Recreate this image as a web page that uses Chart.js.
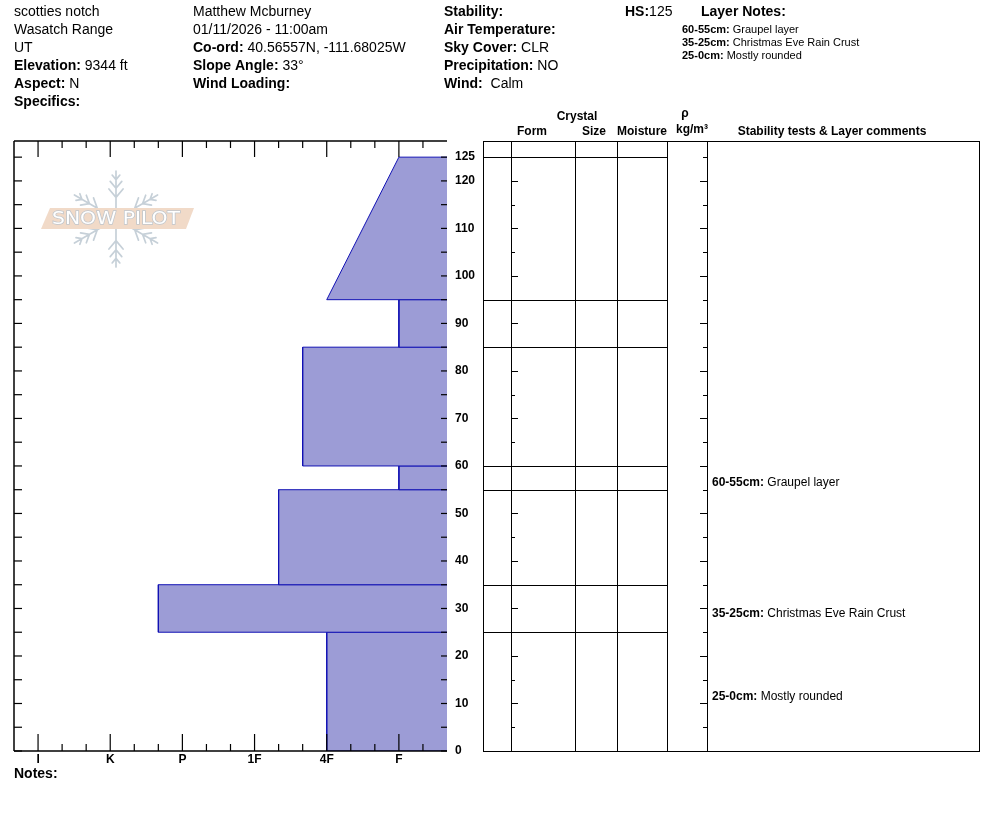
<!DOCTYPE html>
<html>
<head>
<meta charset="utf-8">
<title>scotties notch</title>
<script src="https://cdn.jsdelivr.net/npm/chart.js@4.4.1/dist/chart.umd.min.js"></script>
<style>
  html, body { margin: 0; padding: 0; background: #fff; }
  canvas { display: block; }
</style>
</head>
<body>
<canvas id="profile" width="994" height="840"></canvas>
<script>
// snow layers, top to bottom (cm above ground)
const layerTop = [125, 95, 85, 60, 55, 35, 25];
const layerBottom = [95, 85, 60, 55, 35, 25, 0];
const hardnessTop = ['F', 'F', '4F+', 'F', '1F-', 'P+', '4F'];
const hardnessBottom = ['4F', 'F', '4F+', 'F', '1F-', 'P+', '4F'];
const layerComments = ['', '', '', 'Graupel layer', '', 'Christmas Eve Rain Crust', 'Mostly rounded'];

// axes
const hardnessLabels = ['F', '4F', '1F', 'P', 'K', 'I'];
const depthLabels = [0, 10, 20, 30, 40, 50, 60, 70, 80, 90, 100, 110, 120, 125];
const depthTicks = [0, 5, 10, 15, 20, 25, 30, 35, 40, 45, 50, 55, 60, 65, 70, 75, 80, 85, 90, 95, 100, 105, 110, 115, 120, 125];

// header info
const siteInfo = [['', 'scotties notch'], ['', 'Wasatch Range'], ['', 'UT'], ['Elevation:', '9344 ft'], ['Aspect:', 'N'], ['Specifics:', '']];
const observerInfo = [['', 'Matthew Mcburney'], ['', '01/11/2026 - 11:00am'], ['Co-ord:', '40.56557N, -111.68025W'], ['Slope Angle:', '33°'], ['Wind Loading:', '']];
const weatherInfo = [['Stability:', ''], ['Air Temperature:', ''], ['Sky Cover:', 'CLR'], ['Precipitation:', 'NO'], ['Wind:', ' Calm']];
const snowHeight = 125;

const X_SOFT = 1 / 3;      // right edge of the hardness plot
const X_HARD = 6 + 1 / 3;  // left edge
const FONT = '"Liberation Sans", Arial, sans-serif';

function hardness(code) {
  let v = hardnessLabels.indexOf(code.replace(/[+-]$/, '')) + 1;
  if (code.endsWith('+')) v += 1 / 3;
  if (code.endsWith('-')) v -= 1 / 3;
  return v;
}

// one closed polygon per layer
const datasets = layerTop.map((top, i) => ({
  data: [
    { x: X_SOFT, y: top },
    { x: hardness(hardnessTop[i]), y: top },
    { x: hardness(hardnessBottom[i]), y: layerBottom[i] },
    { x: X_SOFT, y: layerBottom[i] }
  ],
  fill: 'shape',
  backgroundColor: '#9c9cd6',
  borderColor: '#1212b4',
  borderWidth: 1,
  pointRadius: 0,
  tension: 0
}));

function textPair(ctx, x, y, bold, normal, size) {
  ctx.font = 'bold ' + size + 'px ' + FONT;
  ctx.fillText(bold, x, y);
  let w = bold ? ctx.measureText(bold + ' ').width : 0;
  ctx.font = size + 'px ' + FONT;
  ctx.fillText(normal, x + w, y);
}

function line(ctx, x1, y1, x2, y2) {
  ctx.beginPath();
  ctx.moveTo(x1, y1);
  ctx.lineTo(x2, y2);
  ctx.stroke();
}

function drawLogo(ctx) {
  const cx = 116, cy = 219, r = 48;
  ctx.save();
  ctx.strokeStyle = '#c6d0d8';
  ctx.lineWidth = 1.7;
  ctx.lineCap = 'round';
  for (let a = 0; a < 6; a++) {
    const ang = -Math.PI / 2 + a * Math.PI / 3;
    const ux = Math.cos(ang), uy = Math.sin(ang);
    ctx.beginPath();
    ctx.moveTo(cx + ux * 10, cy + uy * 10);
    ctx.lineTo(cx + ux * r, cy + uy * r);
    [[0.45, 11], [0.64, 9], [0.82, 6]].forEach(([f, len]) => {
      const bx = cx + ux * r * f, by = cy + uy * r * f;
      [-1, 1].forEach(s => {
        const b = ang + s * Math.PI / 4.5;
        ctx.moveTo(bx, by);
        ctx.lineTo(bx + Math.cos(b) * len, by + Math.sin(b) * len);
      });
    });
    ctx.stroke();
  }
  ctx.fillStyle = '#f1dac8';
  ctx.beginPath();
  ctx.moveTo(50, 208); ctx.lineTo(194, 208); ctx.lineTo(186, 229); ctx.lineTo(41, 229);
  ctx.closePath();
  ctx.fill();
  ctx.font = '18px "DejaVu Sans"';
  ctx.textAlign = 'center';
  ctx.textBaseline = 'middle';
  const w = ctx.measureText('SNOW PILOT').width;
  ctx.translate(116, 219);
  ctx.scale(128 / w, 1);
  ctx.lineWidth = 1.4;
  ctx.strokeStyle = '#c0c6cc';
  ctx.strokeText('SNOW PILOT', 0, 0);
  ctx.fillStyle = '#ffffff';
  ctx.fillText('SNOW PILOT', 0, 0);
  ctx.restore();
}

const sheet = {
  id: 'sheet',
  beforeDatasetsDraw(chart) {
    drawLogo(chart.ctx);
  },
  afterDatasetsDraw(chart) {
    const { ctx, chartArea: a } = chart;
    const xs = chart.scales.x, ys = chart.scales.y;
    ctx.save();
    ctx.strokeStyle = '#000';
    ctx.lineWidth = 1.5;
    line(ctx, a.left, a.top, a.right, a.top);
    line(ctx, a.left, a.top, a.left, a.bottom);
    line(ctx, a.left, a.bottom, a.right, a.bottom);
    ctx.lineWidth = 1.2;
    for (let k = 2; k < 19; k++) {
      const x = xs.getPixelForValue(k / 3);
      const major = k % 3 === 0;
      line(ctx, x, a.top, x, a.top + (major ? 16 : 7));
      line(ctx, x, a.bottom, x, a.bottom - (major ? 17 : 7));
    }
    depthTicks.forEach(d => {
      const y = ys.getPixelForValue(d);
      line(ctx, a.left, y, a.left + 8, y);
      line(ctx, a.right - 6, y, a.right, y);
    });
    ctx.fillStyle = '#000';
    ctx.font = 'bold 12px ' + FONT;
    ctx.textAlign = 'center';
    ctx.textBaseline = 'middle';
    hardnessLabels.forEach((h, i) => {
      ctx.fillText(h, xs.getPixelForValue(i + 1), a.bottom + 9);
    });
    ctx.textAlign = 'left';
    depthLabels.forEach(d => {
      ctx.fillText(String(d), a.right + 8, ys.getPixelForValue(d));
    });
    ctx.restore();
  },
  afterDraw(chart) {
    const { ctx, chartArea: a } = chart;
    const ys = chart.scales.y;
    ctx.save();
    ctx.fillStyle = '#000';
    ctx.strokeStyle = '#000';
    ctx.textBaseline = 'middle';
    ctx.textAlign = 'left';

    // header block
    siteInfo.forEach((r, i) => textPair(ctx, 14, 12 + i * 18, r[0], r[1], 14));
    observerInfo.forEach((r, i) => textPair(ctx, 193, 12 + i * 18, r[0], r[1], 14));
    weatherInfo.forEach((r, i) => textPair(ctx, 444, 12 + i * 18, r[0], r[1], 14));
    ctx.font = 'bold 14px ' + FONT;
    ctx.fillText('HS:', 625, 12);
    const hsw = ctx.measureText('HS:').width;
    ctx.font = '14px ' + FONT;
    ctx.fillText(String(snowHeight), 625 + hsw, 12);
    ctx.font = 'bold 14px ' + FONT;
    ctx.fillText('Layer Notes:', 701, 12);
    let n = 0;
    layerComments.forEach((c, i) => {
      if (!c) return;
      textPair(ctx, 682, 30 + n * 13, layerTop[i] + '-' + layerBottom[i] + 'cm:', c, 11);
      n++;
    });
    ctx.font = 'bold 14px ' + FONT;
    ctx.fillText('Notes:', 14, a.bottom + 23);

    // table on the right
    const L = 483, R = 979, cols = [511, 575, 617, 667, 707];
    ctx.lineWidth = 1;
    ctx.strokeRect(L + 0.5, a.top + 0.5, R - L, a.bottom - a.top);
    cols.forEach(x => line(ctx, x + 0.5, a.top, x + 0.5, a.bottom));
    const bounds = [...new Set(layerTop.concat(layerBottom))];
    bounds.forEach(d => {
      const y = Math.round(ys.getPixelForValue(d)) + 0.5;
      line(ctx, L, y, cols[3], y);
    });
    depthTicks.forEach(d => {
      const y = Math.round(ys.getPixelForValue(d)) + 0.5;
      const len = d % 10 === 0 ? 7 : 4;
      line(ctx, cols[0], y, cols[0] + len, y);
      line(ctx, cols[4] - len, y, cols[4], y);
    });

    ctx.font = 'bold 12px ' + FONT;
    ctx.textAlign = 'center';
    ctx.fillText('Crystal', 577, 117);
    ctx.fillText('Form', 532, 132);
    ctx.fillText('Size', 594, 132);
    ctx.fillText('Moisture', 642, 132);
    ctx.fillText('ρ', 685, 114);
    ctx.fillText('kg/m³', 692, 130);
    ctx.fillText('Stability tests & Layer comments', 832, 132);

    ctx.textAlign = 'left';
    layerComments.forEach((c, i) => {
      if (!c) return;
      const mid = ys.getPixelForValue((layerTop[i] + layerBottom[i]) / 2);
      textPair(ctx, 712, mid + 5, layerTop[i] + '-' + layerBottom[i] + 'cm:', c, 12);
    });
    ctx.restore();
  }
};

new Chart(document.getElementById('profile'), {
  type: 'line',
  data: { datasets: datasets },
  options: {
    responsive: false,
    animation: false,
    events: [],
    layout: { padding: { left: 14, top: 141, right: 547, bottom: 89 } },
    plugins: {
      legend: { display: false },
      tooltip: { enabled: false }
    },
    scales: {
      x: { type: 'linear', min: X_SOFT, max: X_HARD, reverse: true, display: false },
      y: { type: 'linear', min: 0, max: 128.4, display: false }
    }
  },
  plugins: [sheet]
});
</script>
</body>
</html>
